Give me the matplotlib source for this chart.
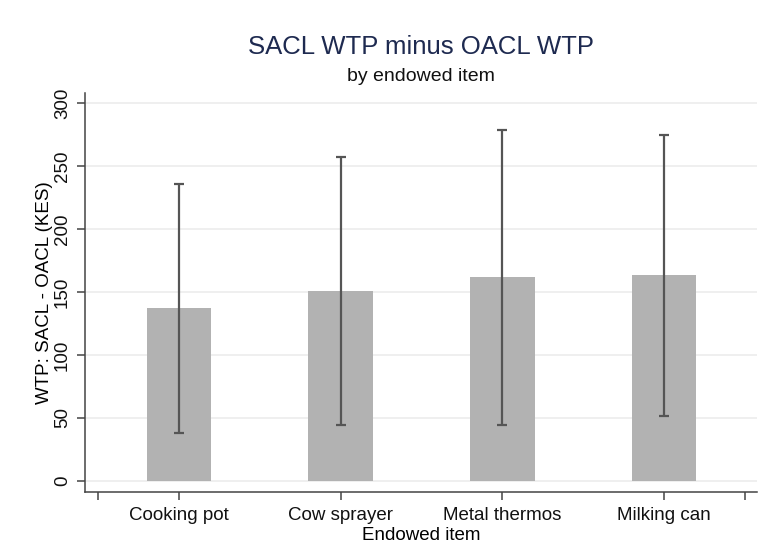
import matplotlib
matplotlib.use('Agg')
import matplotlib.pyplot as plt
import numpy as np

plt.rcParams['font.family'] = ['Liberation Sans', 'DejaVu Sans']

# Data
items = ['Cooking pot', 'Cow sprayer', 'Metal thermos', 'Milking can']
mean_diff = [137, 150.5, 162, 163.5]
ci_low = [38, 44.5, 44.5, 51.5]
ci_high = [236, 257, 279, 275]

x = np.arange(1, len(items) + 1)
yerr = [np.array(mean_diff) - np.array(ci_low), np.array(ci_high) - np.array(mean_diff)]

fig = plt.figure(figsize=(7.62, 5.46), dpi=100)
ax = fig.add_axes([0.1115, 0.099, 0.882, 0.731])

ax.bar(x, mean_diff, width=0.4, color='#b2b2b2', zorder=2)
ax.errorbar(x, mean_diff, yerr=yerr, fmt='none', ecolor='#555555',
            elinewidth=1.6, capsize=3.6, capthick=1.6, zorder=3)

ax.set_xlim(0.419, 4.575)
ax.set_ylim(-8.75, 308.3)

ax.set_yticks(np.arange(0, 301, 50))
ax.set_yticklabels([str(v) for v in range(0, 301, 50)], rotation=90, va='center', fontsize=13.5)
ax.yaxis.grid(True, color='#ececec', linewidth=1.2, zorder=0)
ax.set_axisbelow(True)

ax.set_xticks([0.5, 1, 2, 3, 4, 4.5])
ax.set_xticklabels(['', *items, ''], fontsize=13.5)
ax.tick_params(axis='both', direction='out', length=6, width=1.1, color='#444444', labelcolor='#111111')
ax.tick_params(axis='x', pad=5)
ax.tick_params(axis='y', pad=4)

for side in ['top', 'right']:
    ax.spines[side].set_visible(False)
for side in ['left', 'bottom']:
    ax.spines[side].set_color('#444444')
    ax.spines[side].set_linewidth(1.1)

ax.set_ylabel('WTP: SACL - OACL (KES)', fontsize=13.5, labelpad=1)
ax.set_xlabel('Endowed item', fontsize=13.5, labelpad=2)

fig.text(0.552, 0.914, 'SACL WTP minus OACL WTP', ha='center', va='center',
         fontsize=18.5, color='#1e2a50')
fig.text(0.552, 0.859, 'by endowed item', ha='center', va='center',
         fontsize=14, color='#111111')

plt.savefig('out.png', dpi=100)
